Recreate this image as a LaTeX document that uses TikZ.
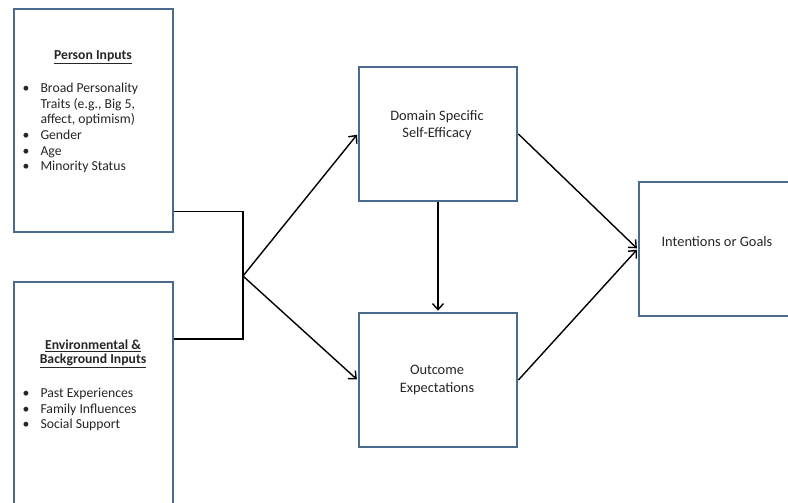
\documentclass[tikz,border=0pt]{standalone}
\usepackage{fontspec}
\setmainfont{Carlito}
\usetikzlibrary{arrows.meta}
\definecolor{boxblue}{HTML}{4A6A8E}
\definecolor{txtgray}{HTML}{262626}
\tikzset{
  box/.style={draw=boxblue, line width=2.8pt, fill=white, inner sep=0pt},
  conn/.style={draw=black, line width=1.4pt},
  arr/.style={conn, -{Straight Barb[length=6pt,width=11pt,line width=1.4pt]}, shorten >=1pt},
  txt/.style={inner sep=0pt, text=txtgray, font=\fontsize{14.4}{17.3}\selectfont, align=center},
  lst/.style={inner sep=0pt, text=txtgray, anchor=north west, font=\fontsize{13.7}{15.6}\selectfont}
}
\newcommand{\bul}{\textbullet}
\begin{document}
\begin{tikzpicture}[x=1pt,y=-1pt]
\useasboundingbox (0,0) rectangle (788,503);
\clip (0,0) rectangle (788,503);
% boxes
\node[box, minimum width=159pt, minimum height=223pt] (pbox) at (93.5,120.5) {};
\node[box, minimum width=159pt, minimum height=240pt] (ebox) at (93.5,402) {};
\node[box, minimum width=158pt, minimum height=134pt] (sbox) at (438,134) {};
\node[box, minimum width=158pt, minimum height=134pt] (obox) at (438,380) {};
\node[box, minimum width=158pt, minimum height=134pt] (ibox) at (718,249) {};
% texts
\node[txt, font=\fontsize{13.7}{15.6}\selectfont\bfseries] (ptitle) at (93,57) {\underline{Person Inputs}};
\node[lst] (plist) at (22.5,81.5) {\renewcommand\arraystretch{1}\begin{tabular}{@{}l@{\hspace{11pt}}l@{}}
\bul & Broad Personality\\
 & Traits (e.g., Big 5,\\
 & affect, optimism)\\
\bul & Gender\\
\bul & Age\\
\bul & Minority Status
\end{tabular}};
\node[txt, font=\fontsize{13.7}{14.6}\selectfont\bfseries] (etitle) at (93,354) {\underline{Environmental \&}\\\underline{Background Inputs}};
\node[lst] (elist) at (22.5,386.5) {\renewcommand\arraystretch{1}\begin{tabular}{@{}l@{\hspace{11pt}}l@{}}
\bul & Past Experiences\\
\bul & Family Influences\\
\bul & Social Support
\end{tabular}};
\node[txt] (stext) at (437,125) {Domain Specific\\Self-Efficacy};
\node[txt] (otext) at (437,380) {Outcome\\Expectations};
\node[txt] (itext) at (717,242) {Intentions or Goals};
% connectors
\coordinate (J) at (243,276);
\draw[conn] ([yshift=22pt]pbox.south east) -| (J);
\draw[conn] (ebox.east |- 0,339) -| (J);
\draw[arr] (J) -- (sbox.west);
\draw[arr] (J) -- (obox.west);
\draw[arr] (sbox.south) -- (obox.north);
\draw[arr] (sbox.east) -- (ibox.west);
\draw[arr] (obox.east) -- (ibox.west);
\end{tikzpicture}
\end{document}
